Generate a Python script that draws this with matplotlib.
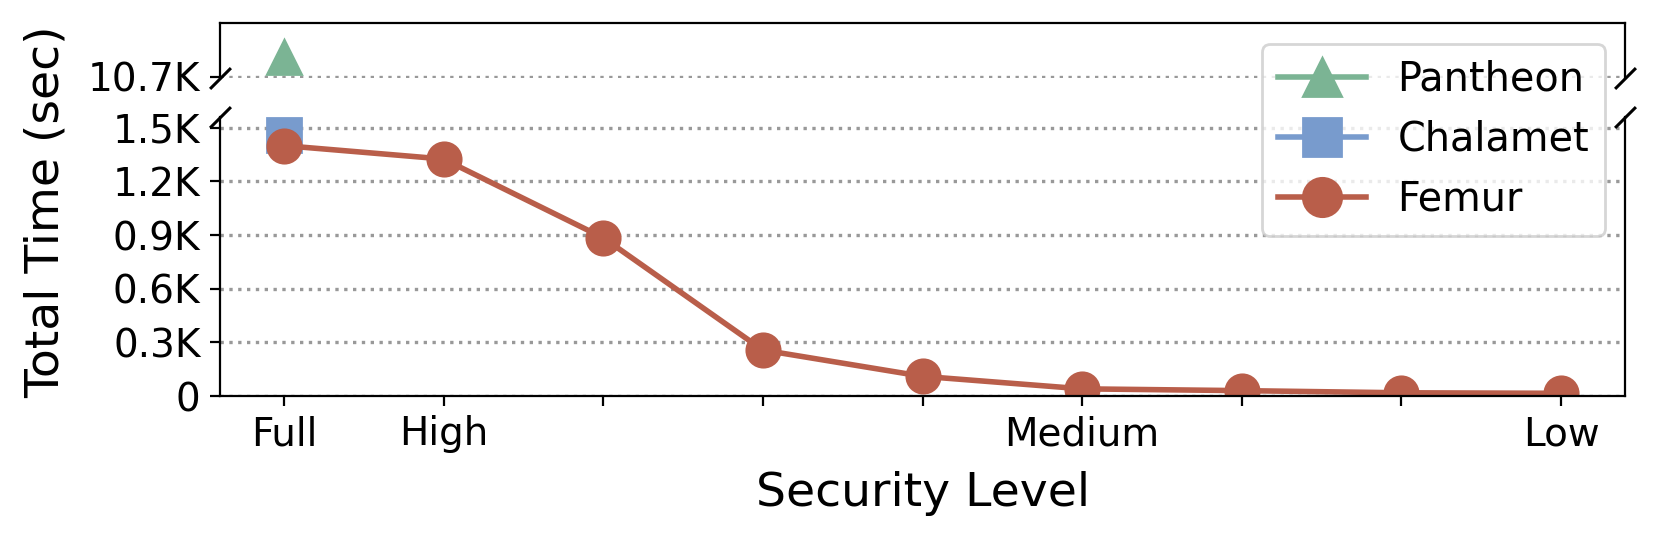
import numpy as np
import matplotlib.pyplot as plt
from matplotlib.ticker import FuncFormatter

# data (seconds)
levels = ['Full', 'High', '', '', '', 'Medium', '', '', 'Low']
femur = [1400, 1325, 885, 257, 110, 40, 30, 18, 15]
chalamet = [1460]
pantheon = [10750]

c_pantheon = '#7BB494'
c_chalamet = '#789BCD'
c_femur = '#B95E4A'

fig = plt.figure(figsize=(8.3, 2.7), dpi=200)
W, H = 1660, 540
left, right = 220 / W, 1625 / W
ax_top = fig.add_axes([left, 1 - 78 / H, right - left, (78 - 23) / H])
ax_bot = fig.add_axes([left, 1 - 396 / H, right - left, (396 - 117) / H])

x = np.arange(len(levels))

for ax in (ax_top, ax_bot):
    lp, = ax.plot(x[:len(pantheon)], pantheon, marker='^', ms=12, lw=2,
                  color=c_pantheon, label='Pantheon')
    lc, = ax.plot(x[:len(chalamet)], chalamet, marker='s', ms=12, lw=2,
                  color=c_chalamet, label='Chalamet')
    lf, = ax.plot(x, femur, marker='o', ms=12, lw=2, color=c_femur, label='Femur')
    ax.set_xlim(-0.4, len(levels) - 1 + 0.4)
    ax.yaxis.grid(True, linestyle=':', color='#999999', lw=1.2)
    ax.set_axisbelow(True)
    ax.tick_params(labelsize=14)
    ax.yaxis.set_major_formatter(FuncFormatter(
        lambda v, p: '0' if v == 0 else '{:.1f}K'.format(v / 1000)))

ax_top.set_ylim(10697, 10837)
ax_top.set_yticks([10700])
ax_bot.set_ylim(0, 1560)
ax_bot.set_yticks([0, 300, 600, 900, 1200, 1500])

ax_top.spines['bottom'].set_visible(False)
ax_bot.spines['top'].set_visible(False)
ax_top.tick_params(axis='x', bottom=False, labelbottom=False)
ax_bot.set_xticks(x)
ax_bot.set_xticklabels(levels)

# break marks
kw = dict(marker=[(-1, -1), (1, 1)], markersize=7.5, linestyle='none',
          color='k', mec='k', mew=1.1, clip_on=False)
ax_top.plot([0, 1], [0, 0], transform=ax_top.transAxes, **kw)
ax_bot.plot([0, 1], [1, 1], transform=ax_bot.transAxes, **kw)

fig.legend(handles=[lp, lc, lf], loc='upper right',
           bbox_to_anchor=(1605 / W, 1 - 44 / H), borderaxespad=0,
           fontsize=14.3, markerscale=1.15, handlelength=2.2)

fig.text(46 / W, 1 - 212 / H, 'Total Time (sec)', rotation=90,
         ha='center', va='center', fontsize=17)
fig.text(923 / W, 1 - 506 / H, 'Security Level', ha='center',
         va='baseline', fontsize=17)

fig.savefig('out.png', dpi=200)
